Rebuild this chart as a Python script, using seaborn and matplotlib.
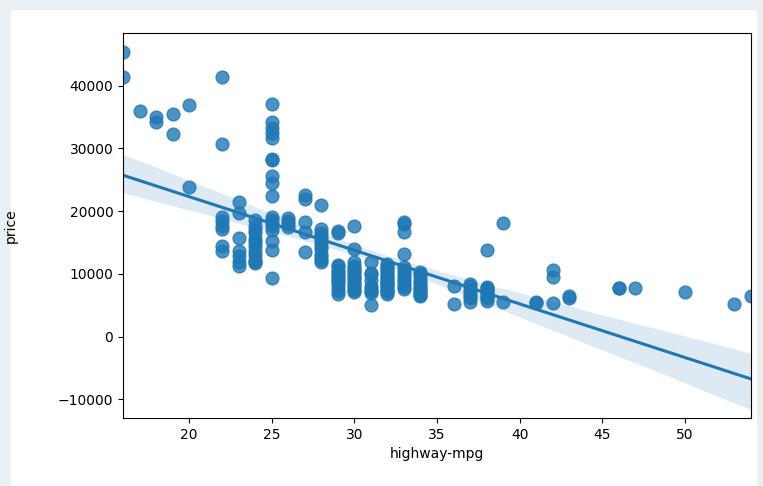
import numpy as np
import pandas as pd
import matplotlib
matplotlib.use("Agg")
import matplotlib.pyplot as plt
import seaborn as sns
from matplotlib.patches import Rectangle

# prices grouped by highway-mpg value
p16 = [45400, 41315]
p17 = [36000]
p18 = [35056, 34184]
p19 = [35550, 32250]
p20 = [36880, 23875]
p22 = [41315, 30760, 19045, 18420, 17700, 17200, 14400, 13700]
p23 = [21485, 19700, 15750, 13650, 12900, 11850, 11250]
p24 = [18620, 17669, 16925, 16500, 15645, 15040, 14489, 13645, 12940, 12290, 11900, 11694]
p25 = [37028, 34184, 33278, 32528, 31600, 28248, 28176, 25552, 24565, 22470,
       19045, 18620, 18150, 17710, 17075, 15250, 13860, 9295]
p26 = [18950, 18420, 17950, 17450]
p27 = [22625, 22018, 18280, 16630, 13499]
p28 = [20970, 17100, 16500, 15998, 15580, 15040, 14489, 13950, 13200, 12764, 12170, 11850]
p29 = [16845, 16515, 11500, 11199, 10698, 10345, 9980, 9639, 9233, 8916, 8499, 7898, 7295, 6855]
p30 = [17710, 13950, 11850, 11259, 10945, 10595, 10245, 9920, 9538, 9279, 8845, 8449,
       8195, 7775, 7463, 7126]
p31 = [11900, 10198, 9995, 9095, 8058, 7603, 7299, 6918, 5118]
p32 = [11595, 11245, 10898, 10595, 10245, 9895, 9549, 9298, 8948, 8778, 8495, 8238,
       7999, 7775, 7499, 7295, 7099, 6849]
p33 = [18280, 17950, 16695, 13200, 11048, 10698, 10198, 9639, 9258, 8845, 8358, 7957, 7609]
p34 = [10295, 9960, 9495, 8921, 8499, 8058, 7738, 7395, 7126, 6795, 6575, 6488]
p36 = [7999, 5151]
p37 = [8449, 8013, 7395, 6938, 6529, 6229, 5572]
p38 = [13860, 7957, 7775, 7499, 7299, 6989, 6692, 6377, 6095, 5749]
p39 = [18150, 5499]
p41 = [5572, 5389]
p42 = [10698, 9549, 5348]
p43 = [6479, 6229]
p46 = [7788, 7738]
p47 = [7738]
p50 = [7099]
p53 = [5151]
p54 = [6479]

mpg_levels = [16, 17, 18, 19, 20, 22, 23, 24, 25, 26, 27, 28, 29, 30, 31, 32, 33, 34,
              36, 37, 38, 39, 41, 42, 43, 46, 47, 50, 53, 54]
price_groups = [p16, p17, p18, p19, p20, p22, p23, p24, p25, p26, p27, p28, p29, p30,
                p31, p32, p33, p34, p36, p37, p38, p39, p41, p42, p43, p46, p47, p50, p53, p54]

hwy = []
price = []
for m, grp in zip(mpg_levels, price_groups):
    hwy.extend([m] * len(grp))
    price.extend(grp)
df = pd.DataFrame({"highway-mpg": hwy, "price": price})

plt.rcParams["font.family"] = ["DejaVu Sans"]
fig = plt.figure(figsize=(7.63, 4.86), dpi=100)
fig.patch.set_facecolor("#eceff1")
fig.patches.append(Rectangle((11 / 763, 0), (757 - 11) / 763, 1 - 10 / 486,
                             transform=fig.transFigure, facecolor="white",
                             edgecolor="none", zorder=-10))
ax = fig.add_axes([123 / 763, 1 - 418 / 486, (751 - 123) / 763, (418 - 33) / 486])
ax.set_zorder(1)

sns.regplot(data=df, x="highway-mpg", y="price", ax=ax, seed=3,
            scatter_kws={"s": 85}, line_kws={"lw": 2.2})

ax.set_xlim(min(hwy), max(hwy))
ax.set_ylim(-12960, 48400)
ax.set_xticks([20, 25, 30, 35, 40, 45, 50])
ax.set_yticks([-10000, 0, 10000, 20000, 30000, 40000])
ax.tick_params(labelsize=10)
ax.set_xlabel("highway-mpg", fontsize=10)
ax.set_ylabel("price", fontsize=10)
ax.yaxis.set_label_coords(-0.168, 0.5)

fig.savefig("out.png", dpi=100, facecolor=fig.get_facecolor())
